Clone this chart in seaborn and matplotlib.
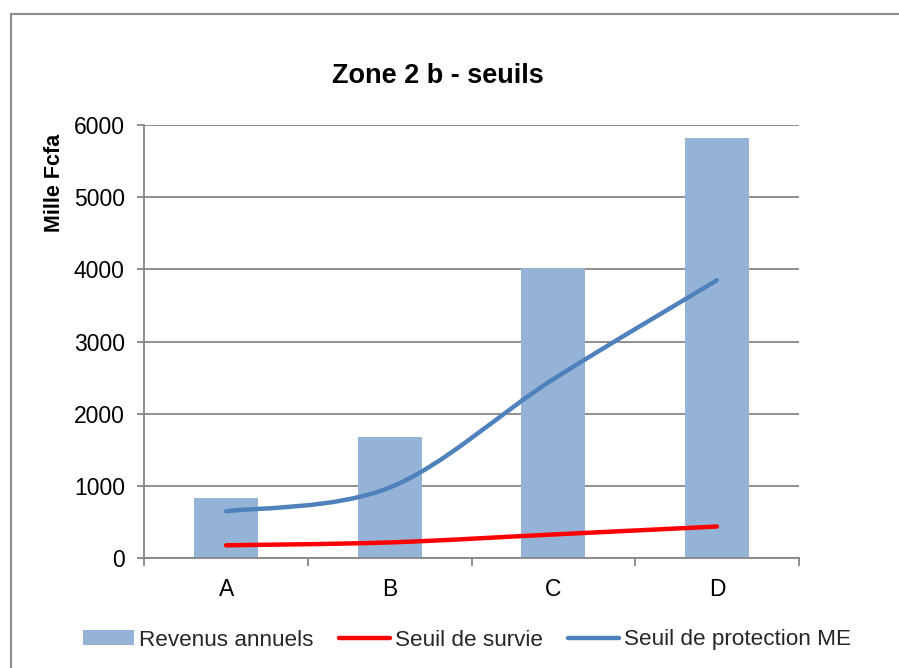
import numpy as np
import pandas as pd
import matplotlib
matplotlib.use("Agg")
import matplotlib.pyplot as plt
from matplotlib.path import Path
from matplotlib.patches import PathPatch, Rectangle, Patch
from matplotlib.lines import Line2D
import seaborn as sns

categories = ["A", "B", "C", "D"]
revenus = [840, 1675, 4020, 5820]
seuil_survie = [180, 220, 330, 440]
seuil_protection = [650, 980, 2480, 3850]
yticks = [0, 1000, 2000, 3000, 4000, 5000, 6000]

title = "Zone 2 b - seuils"
ylabel = "Mille Fcfa"
legend_labels = ["Revenus annuels", "Seuil de survie", "Seuil de protection ME"]

bar_color = "#95B3D7"
red = "#FF0000"
blue = "#4F81BD"
grid_color = "#868686"

sns.set_theme(style="white")
plt.rcParams["font.family"] = ["Liberation Sans", "DejaVu Sans"]

W, H = 899, 668
fig = plt.figure(figsize=(W / 100, H / 100), dpi=100)
ax = fig.add_axes([144.3 / W, 1 - 558.3 / H, (798.7 - 144.3) / W, (558.3 - 125) / H])

df = pd.DataFrame({"cat": categories, "val": revenus})
sns.barplot(data=df, x="cat", y="val", color=bar_color, saturation=1,
            width=0.39, ax=ax, zorder=2, edgecolor="none")


def smooth_path(xs, ys):
    # Excel-like smoothed line: cubic Bezier segments through the data points
    pts = np.column_stack([xs, ys]).astype(float)
    n = len(pts)
    verts = [pts[0]]
    codes = [Path.MOVETO]
    for i in range(n - 1):
        p0 = pts[i - 1] if i > 0 else pts[i]
        p1 = pts[i]
        p2 = pts[i + 1]
        p3 = pts[i + 2] if i + 2 < n else pts[i + 1]
        c1 = p1 + (p2 - p0) / 6.0
        c2 = p2 - (p3 - p1) / 6.0
        verts += [c1, c2, p2]
        codes += [Path.CURVE4] * 3
    return Path(verts, codes)


xpos = np.arange(len(categories))
for series, col in [(seuil_survie, red), (seuil_protection, blue)]:
    patch = PathPatch(smooth_path(xpos, series), facecolor="none", edgecolor=col,
                      lw=3.2, capstyle="round", joinstyle="round", zorder=4)
    ax.add_patch(patch)

ax.set_ylim(0, 6000)
ax.set_xlim(-0.5, 3.5)
ax.set_yticks(yticks)
ax.set_yticklabels([str(t) for t in yticks])
ax.yaxis.grid(True, color=grid_color, lw=1.3, zorder=0)
ax.set_axisbelow(True)

# category labels on minor ticks, boundary tick marks on major ticks
ax.set_xticks([-0.5, 0.5, 1.5, 2.5, 3.5])
ax.set_xticklabels([])
ax.set_xticks(xpos, minor=True)
ax.set_xticklabels(categories, minor=True)
ax.tick_params(axis="x", which="major", length=6, width=1.3, color=grid_color,
               direction="out", bottom=True)
ax.tick_params(axis="x", which="minor", length=0, pad=14, labelsize=16.5,
               labelcolor="black")
ax.tick_params(axis="y", length=5, width=1.3, color=grid_color, direction="out",
               left=True, pad=9, labelsize=16.5, labelcolor="black")
ax.set_xlabel("")
ax.set_ylabel("")

for s in ["top", "right"]:
    ax.spines[s].set_visible(False)
for s in ["left", "bottom"]:
    ax.spines[s].set_color(grid_color)
    ax.spines[s].set_linewidth(1.3)

fig.text(437.5 / W, 1 - 76 / H, title, ha="center", va="center",
         fontsize=19.5, fontweight="bold", color="black")
fig.text(55 / W, 1 - 183 / H, ylabel, ha="center", va="center", rotation=90,
         fontsize=15.5, fontweight="bold", color="black")

# outer chart border (extends past the image on right and bottom)
fig.patches.append(Rectangle((11 / W, -0.1), 1.2, (H - 14) / H + 0.1,
                             transform=fig.transFigure, fill=False,
                             edgecolor="#8C8C8C", lw=1.5, zorder=0))

handles = [Patch(facecolor=bar_color, edgecolor="none"),
           Line2D([0], [0], color=red, lw=3.2, solid_capstyle="round"),
           Line2D([0], [0], color=blue, lw=3.2, solid_capstyle="round")]
fig.legend(handles, legend_labels, loc="center", bbox_to_anchor=(467 / W, 1 - 640 / H),
           ncol=3, frameon=False, fontsize=16.2, handlelength=2.25, handleheight=0.6,
           handletextpad=0.22, columnspacing=1.15, borderaxespad=0)

fig.savefig("out.png", dpi=100)
